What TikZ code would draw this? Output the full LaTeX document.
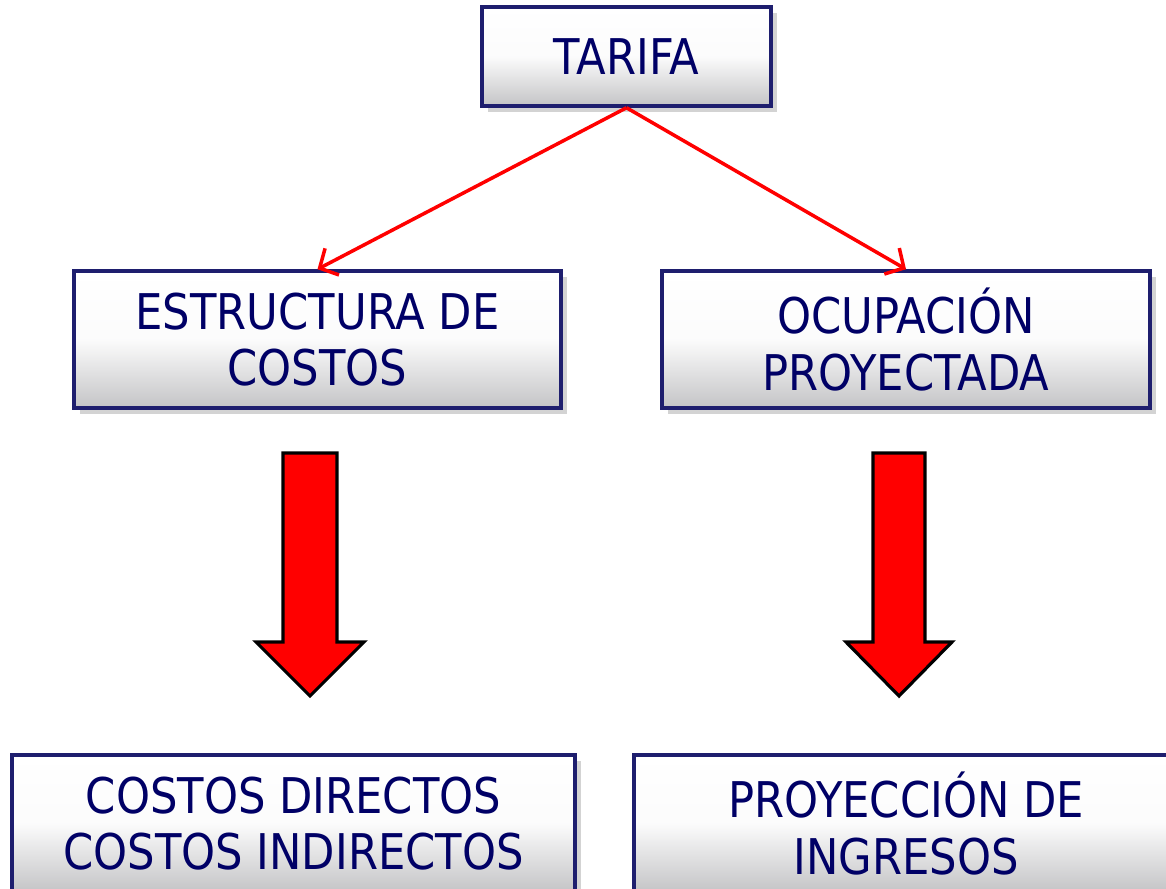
\documentclass[tikz,border=0pt]{standalone}
\usepackage{fontspec}
\setmainfont[FakeStretch=0.88]{DejaVu Sans}
\usetikzlibrary{arrows.meta}
\usetikzlibrary{shadows}

\definecolor{navytext}{RGB}{0,0,102}
\definecolor{navyline}{RGB}{30,30,110}
\definecolor{boxgray}{RGB}{196,196,198}

\tikzset{
  box/.style={draw=navyline, line width=1pt, rectangle, inner sep=0pt,
    top color=white, bottom color=boxgray, middle color=white!94!boxgray,
    text=navytext, align=center,
    font=\fontsize{14}{16}\selectfont,
    drop shadow={opacity=0.35, shadow xshift=0.6mm, shadow yshift=-0.6mm}},
  link/.style={draw=red, line width=1pt, -{Straight Barb[length=1.4mm, width=3mm]}},
  bigarrow/.style={fill=red, draw=black, line width=0.9pt, line join=miter}
}

\begin{document}
\begin{tikzpicture}
% frame
\useasboundingbox (0,0) rectangle (11.66,-8.89);
\clip (0,0) rectangle (11.66,-8.89);

% coordinates
\coordinate (T) at (6.265,-0.565);
\coordinate (L) at (3.175,-3.395);
\coordinate (R) at (9.06,-3.395);
\coordinate (LB) at (2.935,-8.235);
\coordinate (RB) at (9.06,-8.235);

% boxes
\node[box, minimum width=2.89cm, minimum height=0.99cm] (tarifa) at (T) {TARIFA};
\node[box, minimum width=4.87cm, minimum height=1.37cm] (estructura) at (L) {ESTRUCTURA DE\\COSTOS};
\node[box, minimum width=4.88cm, minimum height=1.37cm] (ocupacion) at (R) {OCUPACIÓN\\PROYECTADA};
\node[box, minimum width=5.63cm, minimum height=1.37cm] (directos) at (LB) {COSTOS DIRECTOS\\COSTOS INDIRECTOS};
\node[box, minimum width=5.44cm, minimum height=1.37cm] (ingresos) at (RB) {PROYECCIÓN DE\\INGRESOS};

% red links
\draw[link] (tarifa.south) -- (estructura.north);
\draw[link] (tarifa.south) -- (ocupacion.north);

% block arrows
\draw[bigarrow] (2.83,-4.53) -- (3.37,-4.53) -- (3.37,-6.42) -- (3.64,-6.42)
  -- (3.10,-6.96) -- (2.56,-6.42) -- (2.83,-6.42) -- cycle;
\draw[bigarrow] (8.73,-4.53) -- (9.25,-4.53) -- (9.25,-6.42) -- (9.52,-6.42)
  -- (8.99,-6.96) -- (8.46,-6.42) -- (8.73,-6.42) -- cycle;

\end{tikzpicture}
\end{document}
